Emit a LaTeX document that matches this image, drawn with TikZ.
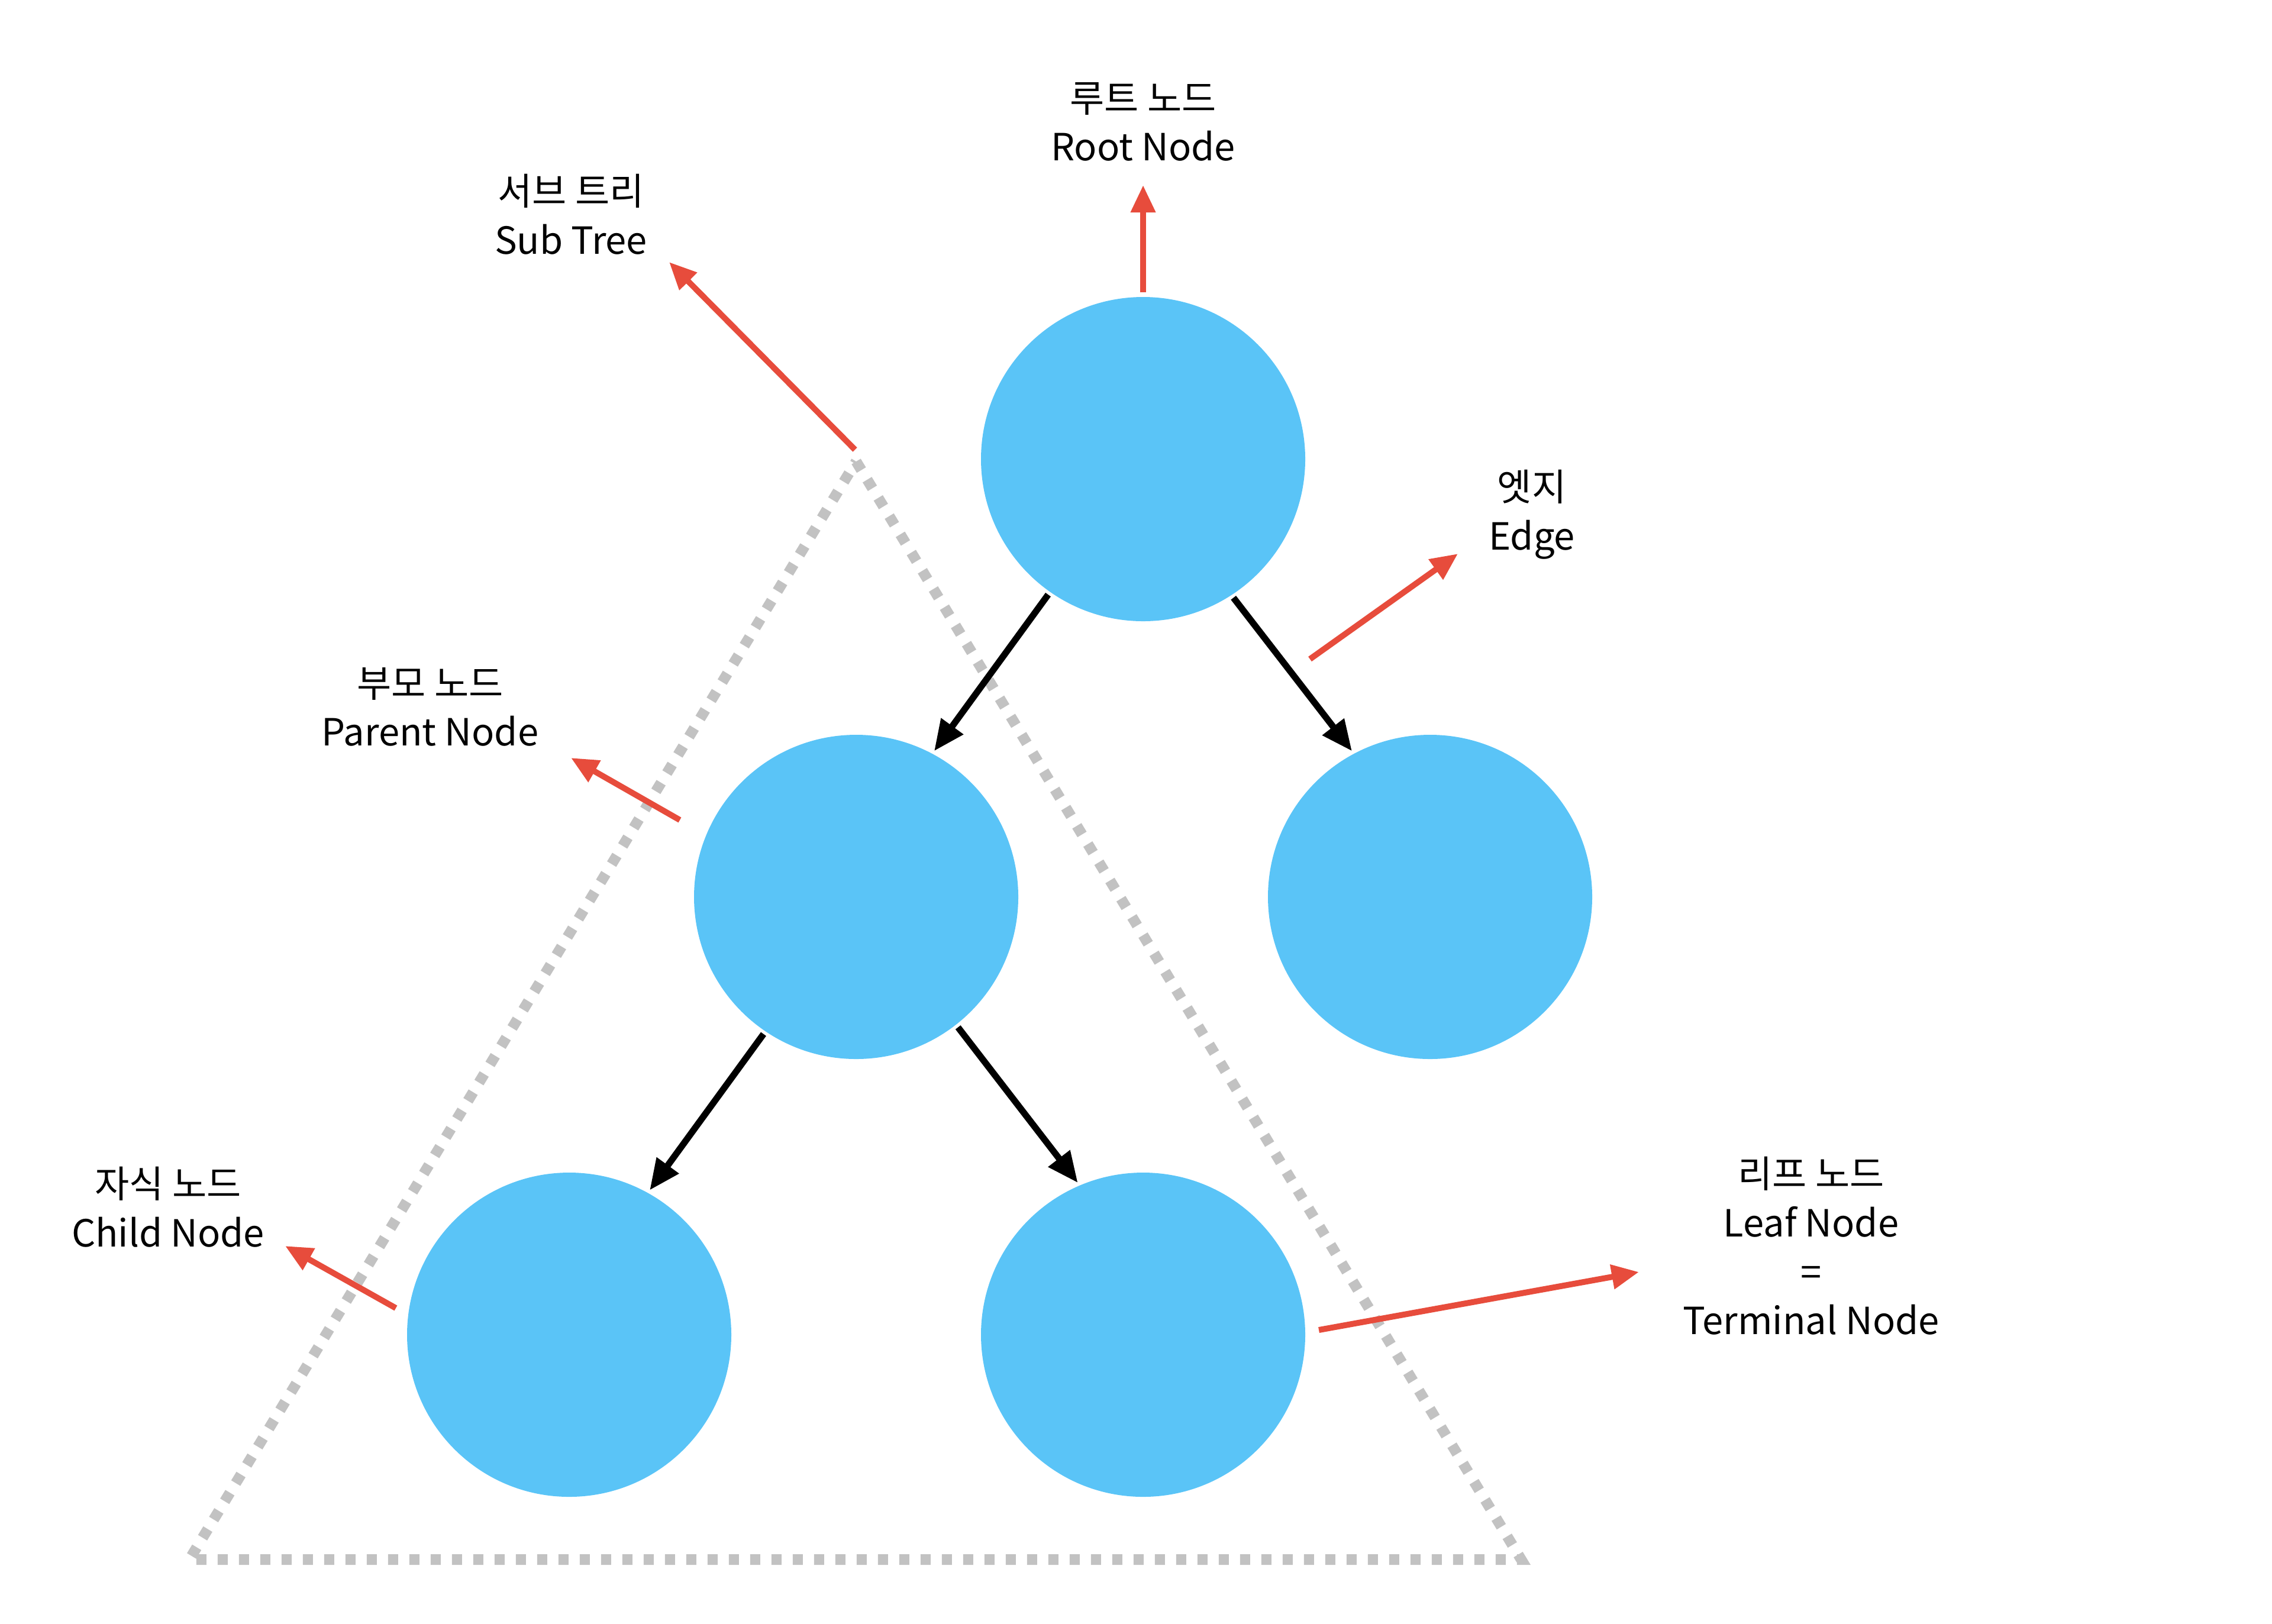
\documentclass[tikz,border=0pt]{standalone}
\usepackage{fontspec}
\setmainfont{Noto Sans CJK KR}
\usetikzlibrary{arrows.meta,positioning}
\definecolor{nodeblue}{HTML}{5AC4F7}
\definecolor{pointer}{HTML}{E74C3C}
\definecolor{subgray}{HTML}{C2C2C2}

\begin{document}
\begin{tikzpicture}[
  treenode/.style={circle, fill=nodeblue, minimum size=5.48cm, inner sep=0pt},
  edgearr/.style={-{Triangle[length=0.52cm, width=0.44cm]}, line width=0.11cm,
                  black, shorten <=0.05cm, shorten >=0.05cm},
  ptr/.style={-{Triangle[length=0.46cm, width=0.4cm]}, line width=0.1cm, pointer},
  lbl/.style={align=center, font=\fontsize{18}{23.5}\selectfont, inner sep=0pt},
  subtree/.style={draw=subgray, line width=0.18cm, dash pattern=on 0.17cm off 0.19cm},
]
  \useasboundingbox (0,0) rectangle (38.4,-27.44);

  % sub tree outline
  \draw[subtree] (14.47,-7.80) -- (25.71,-26.36) -- (3.20,-26.36) -- cycle;

  % tree nodes
  \node[treenode] (root) at (19.32,-7.76) {};
  \node[treenode] (par)  at (14.47,-15.16) {};
  \node[treenode] (sib)  at (24.17,-15.16) {};
  \node[treenode] (chl)  at (9.62,-22.56) {};
  \node[treenode] (chr)  at (19.32,-22.56) {};

  \draw[edgearr] (root.235) -- (par.62);
  \draw[edgearr] (root.303) -- (sib.118);
  \draw[edgearr] (par.236) -- (chl.61);
  \draw[edgearr] (par.308) -- (chr.113);

  % labels
  \node[lbl] (rootlbl) at (19.32,-2.06) {루트 노드\\Root Node};
  \node[lbl] (sublbl)  at (9.65,-3.62)  {서브 트리\\Sub Tree};
  \node[lbl] (edgelbl) at (25.89,-8.70) {엣지\\Edge};
  \node[lbl] (parlbl)  at (7.27,-11.95) {부모 노드\\Parent Node};
  \node[lbl] (chllbl)  at (2.84,-20.40) {자식 노드\\Child Node};
  \node[lbl] (leaflbl) at (30.61,-21.06) {리프 노드\\Leaf Node\\=\\Terminal Node};

  % pointer ends
  \coordinate (roottip) at (19.32,-3.13);
  \coordinate (subtail) at (14.45,-7.60);
  \coordinate (subtip)  at (11.31,-4.43);
  \coordinate (edgetail) at (22.14,-11.14);
  \coordinate (edgetip)  at (24.64,-9.36);
  \coordinate (partail) at (11.49,-13.86);
  \coordinate (partip)  at (9.65,-12.81);
  \coordinate (chltail) at (6.69,-22.11);
  \coordinate (chltip)  at (4.82,-21.06);
  \coordinate (leaftail) at (22.29,-22.48);
  \coordinate (leaftip)  at (27.70,-21.50);

  \draw[ptr, shorten <=0.07cm] (root.north) -- (roottip);
  \draw[ptr] (subtail) -- (subtip);
  \draw[ptr] (edgetail) -- (edgetip);
  \draw[ptr] (partail) -- (partip);
  \draw[ptr] (chltail) -- (chltip);
  \draw[ptr] (leaftail) -- (leaftip);
\end{tikzpicture}
\end{document}
